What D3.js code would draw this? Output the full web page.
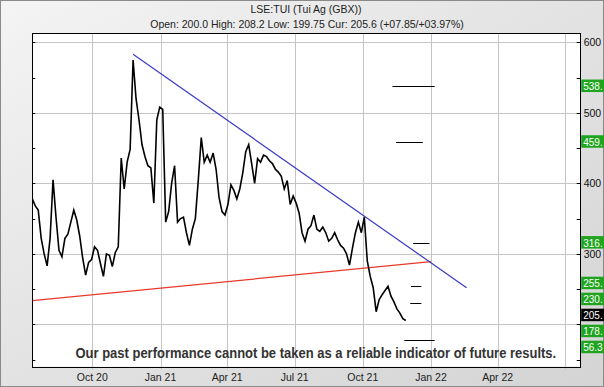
<!DOCTYPE html>
<html>
<head>
<meta charset="utf-8">
<script src="https://cdn.jsdelivr.net/npm/d3@7/dist/d3.min.js"></script>
<style>
  body { margin: 0; background: #fff; }
  svg { display: block; }
  text { font-family: "Liberation Sans", Arial, sans-serif; }
</style>
</head>
<body>
<div id="chart"></div>
<script>
// price series, one close every 4 calendar days from the start date
const priceStart = "2020-07-12";
const stepDays = 4;
const closes = [
  378, 368, 362, 322, 300, 283, 322, 405, 352, 305,
  296, 322, 328, 345, 362, 348, 325, 294, 270, 288,
  292, 310, 305, 286, 268, 300, 298, 282, 302, 310,
  436, 392, 430, 448, 575, 520, 490, 455, 438, 425,
  422, 372, 490, 508, 505, 345, 360, 400, 425, 345,
  350, 352, 330, 312, 335, 350, 405, 465, 430, 440,
  430, 443, 420, 380, 360, 355, 370, 398, 390, 378,
  392, 415, 445, 455, 428, 400, 435, 430, 440, 438,
  432, 428, 420, 416, 410, 392, 404, 370, 382, 372,
  358, 330, 318, 335, 340, 355, 335, 332, 338, 330,
  318, 322, 330, 320, 312, 308, 300, 284, 308, 330,
  345, 330, 352, 290, 268, 252, 218, 235, 242, 248,
  254, 240, 232, 222, 216, 208, 205.6
];

// trend lines [date, value]
const blueTrend = [["2020-11-25", 583], ["2022-02-18", 252]];
const redTrend = [["2020-07-12", 233.6], ["2022-01-01", 289]];

// target levels
const targetValues = [538, 459, 316, 255, 230, 178];
const targetFrom = ["2021-11-10", "2021-11-15", "2021-12-08", "2021-12-05", "2021-12-04", "2021-11-26"];
const targetTo = ["2022-01-06", "2021-12-21", "2021-12-30", "2021-12-19", "2021-12-19", "2022-01-06"];

// right-hand value tags (text as much as shows before the edge)
const tagValues = [538, 459, 316, 255, 230, 205.6, 178, 56.3];
const tagTexts = ["538.", "459.", "316.", "255.", "230.", "205.", "178.", "56.3"];
const tagCurrent = 205.6;

// axes
const monthTicks = ["2020-10-01", "2021-01-01", "2021-04-01", "2021-07-01", "2021-10-01", "2022-01-01", "2022-04-01", "2022-07-01"];
const monthLabels = ["Oct 20", "Jan 21", "Apr 21", "Jul 21", "Oct 21", "Jan 22", "Apr 22", ""];
const yMajor = [200, 300, 400, 500, 600];
const yMinor = [150, 250, 350, 450, 550];
const yLabels = [300, 400, 500, 600];

const title = "LSE:TUI (Tui Ag (GBX))";
const subtitle = "Open: 200.0 High: 208.2 Low: 199.75 Cur: 205.6 (+07.85/+03.97%)";
const disclaimer = "Our past performance cannot be taken as a reliable indicator of future results.";

let width = 604;
let height = 387;
let margin = { top: 33, right: 23.3, bottom: 20.3, left: 32.3 };
let parse = d3.timeParse("%Y-%m-%d");

let svg = d3.select("#chart")
  .append("svg")
  .attr("width", width)
  .attr("height", height);

// frame background
let defs = svg.append("defs");
let grad = defs.append("linearGradient")
  .attr("id", "frameGrad")
  .attr("x1", "0").attr("y1", "0").attr("x2", "1").attr("y2", "1");
grad.append("stop").attr("offset", "0%").attr("stop-color", "#f4f4f4");
grad.append("stop").attr("offset", "45%").attr("stop-color", "#e4e4e4");
grad.append("stop").attr("offset", "100%").attr("stop-color", "#d4d4d4");

svg.append("rect")
  .attr("x", 0.5).attr("y", 0.5)
  .attr("width", width - 1).attr("height", height - 1)
  .attr("fill", "url(#frameGrad)")
  .attr("stroke", "#8a8a8a");

let x = d3.scaleTime()
  .domain([parse("2020-07-12"), parse("2022-07-22")])
  .range([margin.left, width - margin.right]);

let y = d3.scaleLinear()
  .domain([140, 613.2])
  .range([height - margin.bottom, margin.top]);

let x0 = x.range()[0], x1 = x.range()[1];
let y0 = y.range()[1], y1 = y.range()[0];

// plot area
svg.append("rect")
  .attr("x", x0).attr("y", y0)
  .attr("width", x1 - x0).attr("height", y1 - y0)
  .attr("fill", "#fff");

// grid
let grid = svg.append("g").attr("stroke", "#c4c4c4").attr("stroke-width", 1);
grid.selectAll(".vgrid")
  .data(monthTicks)
  .enter().append("line")
  .attr("x1", d => Math.round(x(parse(d))) + 0.5)
  .attr("x2", d => Math.round(x(parse(d))) + 0.5)
  .attr("y1", y0).attr("y2", y1 + 3);
grid.selectAll(".hgrid")
  .data(yMajor)
  .enter().append("line")
  .attr("x1", x0).attr("x2", x1)
  .attr("y1", d => Math.round(y(d)) + 0.5)
  .attr("y2", d => Math.round(y(d)) + 0.5);

// disclaimer, squeezed horizontally to the reference width
let note = svg.append("text")
  .attr("text-anchor", "middle")
  .style("font-family", "'Liberation Sans Narrow', 'Liberation Sans', Arial, sans-serif")
  .style("font-weight", "bold")
  .style("font-size", "14px")
  .attr("fill", "#333")
  .text(disclaimer);
let noteW = note.node().getComputedTextLength();
note.attr("transform", `translate(315.8, 357.5) scale(${481 / noteW}, 1)`);

// clip for marks
defs.append("clipPath").attr("id", "plotClip")
  .append("rect")
  .attr("x", x0).attr("y", y0)
  .attr("width", x1 - x0).attr("height", y1 - y0);

let plot = svg.append("g").attr("clip-path", "url(#plotClip)");

// trend lines
let trendLine = d3.line()
  .x(d => x(parse(d[0])))
  .y(d => y(d[1]));

plot.append("path")
  .attr("d", trendLine(redTrend))
  .attr("fill", "none")
  .attr("stroke", "#e8392a")
  .attr("stroke-width", 1.2);

plot.append("path")
  .attr("d", trendLine(blueTrend))
  .attr("fill", "none")
  .attr("stroke", "#3a3ac8")
  .attr("stroke-width", 1.2);

// target levels
plot.selectAll(".target")
  .data(targetValues)
  .enter().append("line")
  .attr("x1", (d, i) => x(parse(targetFrom[i])))
  .attr("x2", (d, i) => x(parse(targetTo[i])))
  .attr("y1", d => Math.round(y(d)) + 0.5)
  .attr("y2", d => Math.round(y(d)) + 0.5)
  .attr("stroke", "#000")
  .attr("stroke-width", 1);

// price line
let start = parse(priceStart);
let priceLine = d3.line()
  .x((d, i) => x(d3.timeDay.offset(start, i * stepDays)))
  .y(d => y(d));

plot.append("path")
  .attr("d", priceLine(closes))
  .attr("fill", "none")
  .attr("stroke", "#000")
  .attr("stroke-width", 1.6)
  .attr("stroke-linejoin", "miter");

// edge ticks
let ticks = svg.append("g").attr("stroke", "#000");
ticks.selectAll(".lt")
  .data(yMajor.concat(yMinor))
  .enter().append("line")
  .attr("x1", x0).attr("x2", x0 + 3)
  .attr("y1", d => Math.round(y(d)) + 0.5)
  .attr("y2", d => Math.round(y(d)) + 0.5);
ticks.selectAll(".rt")
  .data(yMajor.concat(yMinor))
  .enter().append("line")
  .attr("x1", x1 - 4).attr("x2", x1)
  .attr("y1", d => Math.round(y(d)) + 0.5)
  .attr("y2", d => Math.round(y(d)) + 0.5);

// plot border
svg.append("rect")
  .attr("x", Math.round(x0) + 0.5).attr("y", Math.round(y0) + 0.5)
  .attr("width", Math.round(x1 - x0)).attr("height", Math.round(y1 - y0))
  .attr("fill", "none")
  .attr("stroke", "#000");

// right axis labels
svg.selectAll(".ylab")
  .data(yLabels)
  .enter().append("text")
  .attr("x", x1 + 3)
  .attr("y", d => y(d) + 4)
  .style("font-size", "10.5px")
  .attr("fill", "#111")
  .text(d => d);

// bottom axis labels
svg.selectAll(".xlab")
  .data(monthTicks)
  .enter().append("text")
  .attr("x", d => x(parse(d)))
  .attr("y", 380.5)
  .attr("text-anchor", "middle")
  .style("font-size", "10.5px")
  .attr("fill", "#222")
  .text((d, i) => monthLabels[i]);

// value tags on the right, pushed apart from the bottom up
let tagY = tagValues.map(v => Math.min(y(Math.max(v, y.domain()[0])), y1 - 19.5));
for (let i = tagY.length - 2; i >= 0; i--) {
  tagY[i] = Math.min(tagY[i], tagY[i + 1] - 16);
}

let tags = svg.selectAll(".tag")
  .data(tagValues)
  .enter().append("g")
  .attr("transform", (d, i) => `translate(${x1 + 0.5}, ${tagY[i]})`);

tags.append("rect")
  .attr("x", 0).attr("y", -6.5)
  .attr("width", 30).attr("height", 12.5)
  .attr("fill", d => d === tagCurrent ? "#000" : "#1ea41e");

tags.append("text")
  .attr("x", 2).attr("y", 4)
  .style("font-size", "10px")
  .attr("fill", "#fff")
  .text((d, i) => tagTexts[i]);

// title
svg.append("text")
  .attr("x", 306).attr("y", 13)
  .attr("text-anchor", "middle")
  .style("font-size", "10.5px")
  .attr("fill", "#222")
  .text(title);

svg.append("text")
  .attr("x", 307).attr("y", 28)
  .attr("text-anchor", "middle")
  .style("font-size", "10.5px")
  .attr("fill", "#222")
  .text(subtitle);
</script>
</body>
</html>
